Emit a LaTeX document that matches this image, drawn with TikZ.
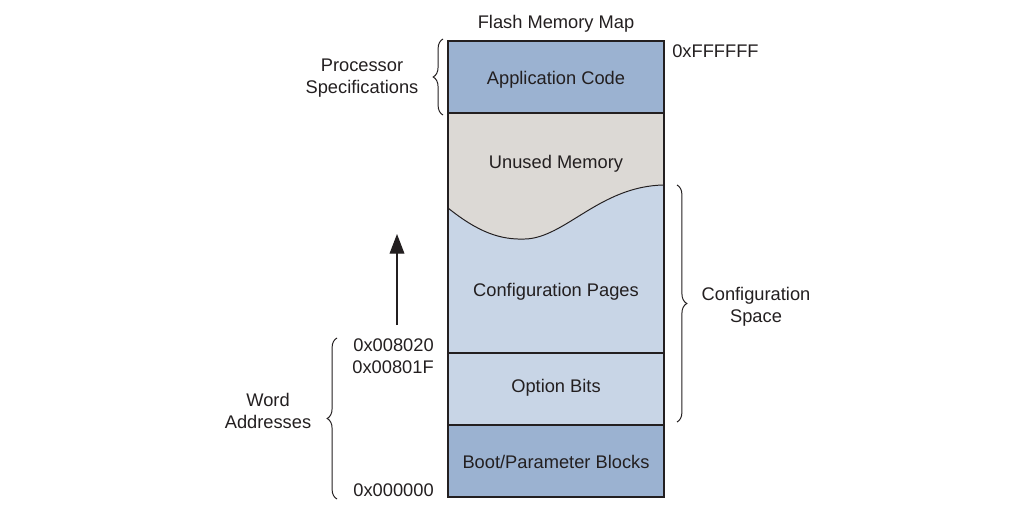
\documentclass[tikz,border=0pt]{standalone}
\usepackage{fontspec}
\setmainfont{Liberation Sans}
\usetikzlibrary{arrows.meta,decorations.pathreplacing}
\definecolor{darkblock}{HTML}{9BB2D1}
\definecolor{lightblock}{HTML}{C8D5E6}
\definecolor{unusedgray}{HTML}{DCD9D5}
\definecolor{inkgray}{HTML}{231F20}
\tikzset{
  lbl/.style={font=\fontsize{13}{15.6}\selectfont, text=inkgray, inner sep=0pt, align=center},
  addr/.style={lbl, anchor=east},
  brc/.style={draw=inkgray, line width=0.7pt, decorate, decoration={brace, amplitude=7pt}},
  cell/.style={draw=inkgray, line width=0.9pt}
}
\begin{document}
\begin{tikzpicture}[x=0.025cm, y=-0.025cm]
  \useasboundingbox (0,0) rectangle (1018,511);

  % fills
  \fill[darkblock] (448,41) rectangle (664,113);
  \fill[lightblock] (448,113) rectangle (664,425);
  \fill[unusedgray] (448,113) -- (448,208)
      .. controls (478,232) and (500,240) .. (525,239)
      .. controls (565,238) and (600,186) .. (664,185)
      -- (664,113) -- cycle;
  \fill[darkblock] (448,425) rectangle (664,497);

  % outlines
  \draw[cell] (448,41) rectangle (664,497);
  \draw[cell] (448,113) -- (664,113);
  \draw[cell] (448,353) -- (664,353);
  \draw[cell] (448,425) -- (664,425);
  \draw[inkgray, line width=0.7pt] (448,208)
      .. controls (478,232) and (500,240) .. (525,239)
      .. controls (565,238) and (600,186) .. (664,185);

  % block labels
  \node[lbl] (title) at (556,24) {Flash Memory Map};
  \node[lbl] (app) at (556,80) {Application Code};
  \node[lbl] (unused) at (556,164) {Unused Memory};
  \node[lbl] (cfgpages) at (556,292) {Configuration Pages};
  \node[lbl] (optbits) at (556,388) {Option Bits};
  \node[lbl] (boot) at (556,462) {Boot/Parameter Blocks};

  % addresses
  \node[lbl, anchor=west] (topaddr) at (672,51) {0xFFFFFF};
  \node[addr] (cfgaddr) at (434,345) {0x008020};
  \node[addr] (optaddr) at (434,367) {0x00801F};
  \node[addr] (zeroaddr) at (434,490) {0x000000};

  % side notes
  \node[lbl] (procspec) at (362,78) {Processor\\Specifications};
  \node[lbl] (wordaddr) at (268,411) {Word\\Addresses};
  \node[lbl] (cfgspace) at (756,307) {Configuration\\Space};

  % braces
  \coordinate (ps top) at (443,39);
  \coordinate (ps bot) at (443,115);
  \draw[brc] (ps bot) -- (ps top);
  \coordinate (wa top) at (337,338);
  \coordinate (wa bot) at (337,499);
  \draw[brc] (wa bot) -- (wa top);
  \coordinate (cs top) at (677,185);
  \coordinate (cs bot) at (677,422);
  \draw[brc] (cs top) -- (cs bot);

  % growth arrow
  \coordinate (grow start) at (397,325);
  \coordinate (grow end) at (397,234);
  \draw[-{Triangle[width=10.5pt,length=14pt]}, inkgray, line width=0.8pt] (grow start) -- (grow end);
\end{tikzpicture}
\end{document}
